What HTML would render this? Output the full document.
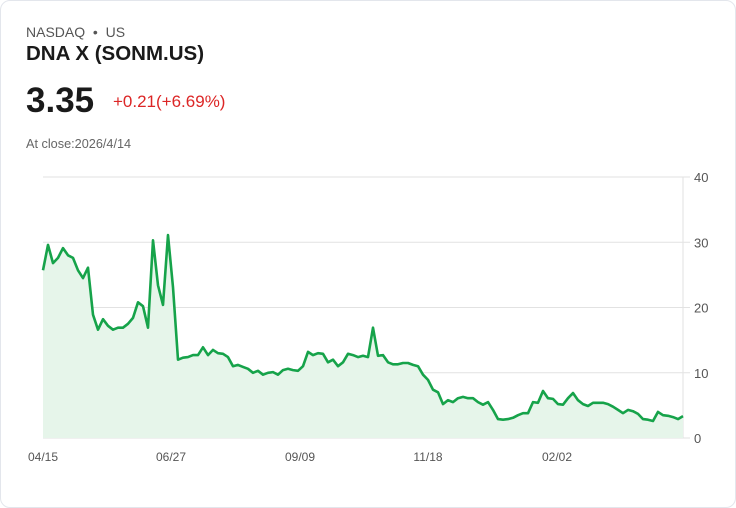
<!DOCTYPE html>
<html><head><meta charset="utf-8"><style>
html,body{margin:0;padding:0;background:#fff;}
body{width:736px;height:508px;overflow:hidden;font-family:"Liberation Sans",sans-serif;}
.card{position:absolute;left:0;top:0;width:734px;height:506px;border:1px solid #e3e6ec;border-radius:10px;background:#fff;}
.t{position:absolute;white-space:nowrap;}
</style></head><body>
<div class="card">
<div class="t" style="left:25px;top:23px;font-size:14px;color:#555;">NASDAQ &nbsp;•&nbsp; US</div>
<div class="t" style="left:25px;top:41px;font-size:20.5px;font-weight:bold;color:#1a1a1a;">DNA X (SONM.US)</div>
<div class="t" style="left:25px;top:80px;font-size:35px;font-weight:bold;color:#1a1a1a;">3.35</div>
<div class="t" style="left:112px;top:91px;font-size:17px;color:#dc2626;">+0.21(+6.69%)</div>
<div class="t" style="left:25px;top:136px;font-size:12.7px;color:#666;">At close:2026/4/14</div>
<svg id="chart" width="736" height="508" style="position:absolute;left:-1px;top:-1px;"></svg>
</div>
<script>
const values=[25.7,29.6,26.8,27.6,29.1,28.0,27.6,25.7,24.5,26.1,18.9,16.6,18.2,17.2,16.6,16.9,16.9,17.5,18.4,20.8,20.2,16.9,30.3,23.4,20.4,31.1,23.1,12.0,12.3,12.4,12.7,12.7,13.9,12.7,13.5,13.0,12.9,12.4,11.0,11.2,10.9,10.6,10.0,10.3,9.7,10.0,10.1,9.7,10.4,10.6,10.4,10.3,11.0,13.2,12.7,13.0,12.9,11.6,12.0,11.0,11.6,12.9,12.7,12.4,12.6,12.4,16.9,12.6,12.7,11.6,11.3,11.3,11.5,11.5,11.2,11.0,9.7,8.9,7.4,7.0,5.2,5.8,5.5,6.1,6.3,6.1,6.1,5.5,5.1,5.5,4.3,2.9,2.8,2.9,3.1,3.5,3.8,3.8,5.5,5.4,7.2,6.1,6.0,5.2,5.1,6.1,6.9,5.8,5.2,4.9,5.4,5.4,5.4,5.2,4.8,4.3,3.8,4.3,4.1,3.7,2.9,2.8,2.6,4.0,3.5,3.4,3.2,2.9,3.35];
const yTicks=[0,10,20,30,40];
const xLabels=["04/15","06/27","09/09","11/18","02/02"];
const xLabelIdx=[0,25.6,51.4,77,102.8];
const X0=43,X1=683,Y0=438,Y1=177,YMAX=40;
const sx=i=>X0+(X1-X0)*i/(values.length-1);
const sy=v=>Y0-(Y0-Y1)*v/YMAX;
const NS="http://www.w3.org/2000/svg";
const svg=document.getElementById('chart');
function mk(tag,attrs){const e=document.createElementNS(NS,tag);for(const k in attrs)e.setAttribute(k,attrs[k]);svg.appendChild(e);return e;}
yTicks.forEach(t=>{
  const l=mk('line',{x1:X0,x2:690,y1:sy(t),y2:sy(t),stroke:'#e2e2e2','stroke-width':1});
  
  
  const tx=mk('text',{x:694,y:sy(t)+5,'font-size':13,fill:'#555','font-family':'Liberation Sans, sans-serif'});
  tx.textContent=t;
  
  
});
const ax=mk('line',{x1:683,x2:683,y1:Y1,y2:Y0,stroke:'#e2e2e2','stroke-width':1});


let d=values.map((v,i)=>(i?'L':'M')+sx(i).toFixed(1)+','+sy(v).toFixed(1)).join(' ');
const area=mk('path',{d:d+` L${X1},${Y0} L${X0},${Y0} Z`,fill:'#e6f5ea'});


const line=mk('path',{d:d,fill:'none',stroke:'#16a34a','stroke-width':2.6,'stroke-linejoin':'round'});


xLabels.forEach((s,k)=>{
  const tx=mk('text',{x:sx(xLabelIdx[k]),y:461,'font-size':12,fill:'#555','text-anchor':'middle','font-family':'Liberation Sans, sans-serif'});
  tx.textContent=s;
  
  
});
</script>
</body></html>
